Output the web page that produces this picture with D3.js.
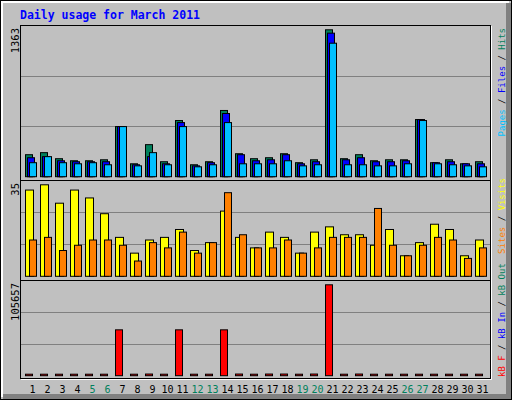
<!DOCTYPE html>
<html>
<head>
<meta charset="utf-8">
<script src="https://cdn.jsdelivr.net/npm/d3@7"></script>
<style>
  body { margin: 0; background: #fff; }
  text { font-family: "DejaVu Sans Mono", monospace; }
</style>
</head>
<body>
<div id="chart"></div>
<script>
// daily values
const days = d3.range(1, 32);
const weekends = [5, 6, 12, 13, 19, 20, 26, 27];
const hits = [208, 227, 171, 152, 152, 161, 468, 124, 301, 143, 524, 115, 143, 617, 217, 171,
  180, 217, 134, 161, 1363, 171, 208, 152, 161, 161, 533, 134, 161, 124, 143];
const files = [180, 190, 152, 143, 143, 143, 468, 115, 190, 124, 505, 105, 134, 589, 208, 152,
  161, 208, 124, 143, 1332, 161, 180, 143, 143, 152, 533, 134, 143, 124, 124];
const pages = [134, 190, 134, 124, 134, 115, 468, 105, 227, 115, 468, 96, 115, 505, 124, 124,
  124, 152, 105, 115, 1239, 115, 115, 105, 105, 124, 524, 124, 115, 105, 96];
const visits = [33, 35, 28, 33, 30, 24, 15, 9, 14, 15, 18, 10, 13, 25, 15, 11,
  17, 15, 9, 17, 19, 16, 16, 12, 18, 8, 13, 20, 18, 8, 14];
const sites = [14, 15, 10, 12, 14, 14, 12, 6, 13, 11, 17, 9, 13, 32, 16, 11,
  11, 14, 9, 11, 15, 15, 15, 26, 12, 8, 12, 15, 14, 7, 11];
const kbytes = [300, 300, 300, 300, 300, 300, 53600, 300, 2500, 300, 53600, 300, 300, 53600, 2500, 300,
  2500, 2500, 300, 2500, 105657, 300, 2500, 300, 300, 300, 300, 300, 300, 300, 300];
const maxHits = 1363, maxVisits = 35, maxKbytes = 105657;

const width = 512, height = 400;
const svg = d3.select("#chart").append("svg")
  .attr("width", width).attr("height", height);

// background with bevel
svg.append("rect").attr("width", width).attr("height", height).attr("fill", "#c0c0c0");
svg.append("rect").attr("x", 0.5).attr("y", 0.5).attr("width", width - 1).attr("height", height - 1)
  .attr("fill", "none").attr("stroke", "#000");
svg.append("path").attr("d", "M2,397V2H509").attr("fill", "none").attr("stroke", "#fff").attr("stroke-width", 2);
svg.append("path").attr("d", "M3,396.5H508.5V3").attr("fill", "none").attr("stroke", "#808080").attr("stroke-width", 5);

svg.append("text").attr("x", 20).attr("y", 19)
  .attr("font-size", "11.5px").attr("font-weight", "bold").attr("fill", "#0000ff")
  .text("Daily usage for March 2011");

const x = d3.scaleBand().domain(days).range([25, 490]);

// panels: top, bottom pixel rows
const panels = [
  { top: 25, bottom: 180, base: 176.7, max: maxHits, peak: 29.3, label: maxHits },
  { top: 180, bottom: 280, base: 276.3, max: maxVisits, peak: 184.3, label: maxVisits },
  { top: 280, bottom: 378, base: 375.7, max: maxKbytes, peak: 284.3, label: maxKbytes }
];

panels.forEach(function(p) {
  p.y = d3.scaleLinear().domain([0, p.max]).range([p.base, p.peak]);
  svg.append("rect").attr("x", 20.5).attr("y", p.top + 0.5)
    .attr("width", 470).attr("height", p.bottom - p.top)
    .attr("fill", "#c0c0c0").attr("stroke", "#000");
  [1, 2].forEach(function(i) {
    const gy = Math.round(p.base - (p.base - p.top) * i / 3) + 0.5;
    svg.append("line").attr("x1", 21).attr("x2", 490).attr("y1", gy).attr("y2", gy)
      .attr("stroke", "#808080");
  });
  svg.append("text")
    .attr("transform", `translate(19,${p.top + 3}) rotate(-90)`)
    .attr("text-anchor", "end").attr("font-size", "10.5px").attr("fill", "#000")
    .text(p.label);
});
// white highlight under frame
svg.append("path").attr("d", "M21,379.5H491.5V26").attr("fill", "none").attr("stroke", "#fff");

function bars(data, panel, offset, w, color) {
  svg.append("g").selectAll("rect")
    .data(data)
    .enter().append("rect")
    .attr("x", (d, i) => x(days[i]) + offset + 0.5)
    .attr("width", w)
    .attr("y", d => Math.min(panel.y(d), panel.base - 2) + 0.5)
    .attr("height", d => Math.max(panel.base - panel.y(d), 2) - 0.5)
    .attr("fill", color)
    .attr("stroke", "#000");
}

bars(hits, panels[0], 0, 7, "#00805c");
bars(files, panels[0], 2, 7, "#0000ff");
bars(pages, panels[0], 4, 7, "#00c0ff");
bars(visits, panels[1], 0, 8, "#ffff00");
bars(sites, panels[1], 4, 7, "#ff8000");
bars(kbytes, panels[2], 0, 7, "#ff0000");

// day labels
svg.append("g").selectAll("text")
  .data(days)
  .enter().append("text")
  .attr("x", d => x(d) + 7.5)
  .attr("y", 393)
  .attr("text-anchor", "middle")
  .attr("font-size", "10px")
  .attr("fill", d => weekends.includes(d) ? "#00805c" : "#000")
  .text(d => d);

// side legends
function legend(parts, y, anchor) {
  const t = svg.append("text")
    .attr("transform", `translate(505,${y}) rotate(-90)`)
    .attr("text-anchor", anchor).attr("font-size", "9px");
  parts.forEach(function(p) {
    t.append("tspan").attr("fill", p[1]).text(p[0]);
  });
}
legend([["Pages", "#00c0ff"], [" / ", "#000"], ["Files", "#0000ff"], [" / ", "#000"], ["Hits", "#00805c"]], 28, "end");
legend([["Sites", "#ff8000"], [" / ", "#000"], ["Visits", "#ffff00"]], 178, "end");
legend([["kB F", "#ff0000"], [" / ", "#000"], ["kB In", "#0000ff"], [" / ", "#000"], ["kB Out", "#00805c"]], 377, "start");
</script>
</body>
</html>
